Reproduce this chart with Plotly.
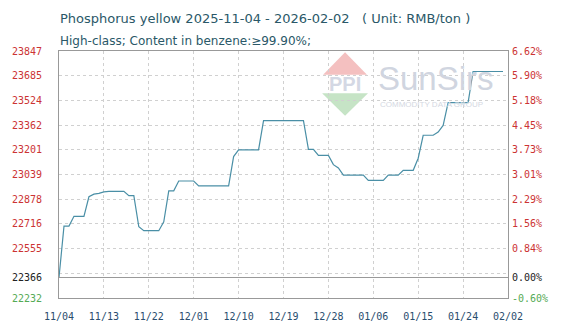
import pandas as pd
import plotly.graph_objects as go

# ---- data ----
start_date = "2025-11-04"
end_date = "2026-02-02"
dates = pd.date_range(start_date, end_date, freq="D")
prices = [
    22366, 22702, 22702, 22766, 22766, 22766, 22894, 22911, 22916, 22926,
    22929, 22929, 22929, 22929, 22901, 22901, 22698, 22672, 22672, 22672,
    22672, 22730, 22933, 22933, 22997, 22997, 22997, 22997, 22965, 22965,
    22965, 22965, 22965, 22965, 22965, 23157, 23200, 23200, 23200, 23200,
    23200, 23392, 23392, 23392, 23392, 23392, 23392, 23392, 23392, 23392,
    23204, 23204, 23164, 23164, 23164, 23104, 23082, 23035, 23035, 23035,
    23035, 23035, 23001, 23001, 23001, 23001, 23035, 23035, 23035, 23067,
    23067, 23067, 23146, 23296, 23296, 23296, 23317, 23360, 23510, 23510,
    23510, 23510, 23510, 23713, 23713, 23713, 23713, 23713, 23713, 23713,
]
base_price = 22366
y_min, y_max = 22232, 23847
left_tick_vals = [22232, 22393.5, 22555, 22716.5, 22878, 23039.5, 23201, 23362.5, 23524, 23685.5, 23847]
left_tick_text = ["22232", "", "22555", "22716", "22878", "23039", "23201", "23362", "23524", "23685", "23847"]
right_tick_text = ["-0.60%", "", "0.84%", "1.56%", "2.29%", "3.01%", "3.73%", "4.45%", "5.18%", "5.90%", "6.62%"]
x_tick_labels = ["11/04", "11/13", "11/22", "12/01", "12/10", "12/19", "12/28", "01/06", "01/15", "01/24", "02/02"]

RED = "#cc3333"
GREEN = "#55aa55"
TXT = "#2a5868"

def colored(txt, v):
    if txt == "":
        return ""
    c = RED if v > base_price else (GREEN if v < base_price else "#222222")
    return f'<span style="color:{c}">{txt}</span>'

lt_vals = left_tick_vals + [base_price]
lt_text = [colored(t, v) for t, v in zip(left_tick_text, left_tick_vals)] + [colored("22366", base_price)]
pct = lambda v: (v / base_price - 1) * 100
rt_vals = [pct(v) for v in lt_vals]
rt_text = [colored(t, v) for t, v in zip(right_tick_text, left_tick_vals)] + [colored("0.00%", base_price)]

x_tick_vals = list(dates[::9])

fig = go.Figure()
fig.add_trace(go.Scatter(x=list(dates), y=prices, mode="lines",
                         line=dict(color="#4a8fa6", width=1.2),
                         hoverinfo="skip", showlegend=False))
fig.add_trace(go.Scatter(x=[dates[0]], y=[pct(prices[0])], yaxis="y2", mode="markers",
                         marker=dict(opacity=0), hoverinfo="skip", showlegend=False))

grid = dict(showgrid=True, gridcolor="#d0d0d0", griddash="dot", gridwidth=1)
fig.update_layout(
    width=574, height=334,
    margin=dict(l=58, r=66, t=51, b=31),
    paper_bgcolor="white", plot_bgcolor="white",
    xaxis=dict(range=[dates[0], dates[-1]], tickvals=x_tick_vals, ticktext=x_tick_labels,
               tickfont=dict(family="DejaVu Sans Mono", size=10, color="#2a4d6e"),
               showline=True, linecolor="#999999", linewidth=1, mirror=True,
               ticks="", ticklabelstandoff=9, zeroline=False, **grid),
    yaxis=dict(range=[y_min, y_max], tickvals=lt_vals, ticktext=lt_text,
               tickfont=dict(family="DejaVu Sans Mono", size=10, color=RED),
               showline=True, linecolor="#999999", linewidth=1, mirror=True,
               ticks="", ticklabelstandoff=14, zeroline=False, **grid),
    yaxis2=dict(range=[pct(y_min), pct(y_max)], tickvals=rt_vals, ticktext=rt_text,
                overlaying="y", side="right", showgrid=False, zeroline=False,
                tickfont=dict(family="DejaVu Sans Mono", size=10, color=RED),
                ticks="", ticklabelstandoff=3, showline=False),
)

# solid base line at reference price
fig.add_shape(type="line", xref="paper", yref="y", x0=0, x1=1, y0=base_price, y1=base_price,
              line=dict(color="#999999", width=1), layer="above")

# watermark logo (approximation)
px2x = lambda p: (p - 58.3) / 450.0
px2y = lambda p: (303.3 - p) / 252.6
fig.add_shape(type="path", xref="paper", yref="paper", layer="below",
              path=f"M {px2x(323)},{px2y(75)} L {px2x(345)},{px2y(52)} L {px2x(367)},{px2y(75)} Z",
              fillcolor="#f4c0c0", line=dict(width=0))
fig.add_shape(type="path", xref="paper", yref="paper", layer="below",
              path=f"M {px2x(322)},{px2y(94)} L {px2x(368)},{px2y(94)} L {px2x(345)},{px2y(117)} Z",
              fillcolor="#c6e4c6", line=dict(width=0))
fig.add_annotation(xref="paper", yref="paper", x=px2x(345), y=px2y(84), text="<b>PPI</b>",
                   showarrow=False, font=dict(family="Liberation Sans", size=20, color="#d4d8e4"),
                   xanchor="center", yanchor="middle")
fig.add_annotation(xref="paper", yref="paper", x=px2x(376), y=px2y(79), text="SunSirs",
                   showarrow=False, font=dict(family="Liberation Sans", size=33, color="#d0d5e0"),
                   xanchor="left", yanchor="middle")
fig.add_annotation(xref="paper", yref="paper", x=px2x(378), y=px2y(105), text="COMMODITY DATA GROUP",
                   showarrow=False, font=dict(family="Liberation Sans", size=8, color="#d4d8e2"),
                   xanchor="left", yanchor="middle")

# titles
fig.add_annotation(xref="paper", yref="paper", x=px2x(57), y=px2y(17), text="Phosphorus yellow 2025-11-04 - 2026-02-02",
                   showarrow=False, font=dict(family="DejaVu Sans", size=13, color=TXT),
                   xanchor="left", yanchor="middle")
fig.add_annotation(xref="paper", yref="paper", x=px2x(360), y=px2y(17), text="( Unit: RMB/ton )",
                   showarrow=False, font=dict(family="DejaVu Sans", size=13, color=TXT),
                   xanchor="left", yanchor="middle")
fig.add_annotation(xref="paper", yref="paper", x=px2x(57), y=px2y(40), text="High-class; Content in benzene:≥99.90%;",
                   showarrow=False, font=dict(family="DejaVu Sans", size=12, color=TXT),
                   xanchor="left", yanchor="middle")

fig.write_html("out.html")
